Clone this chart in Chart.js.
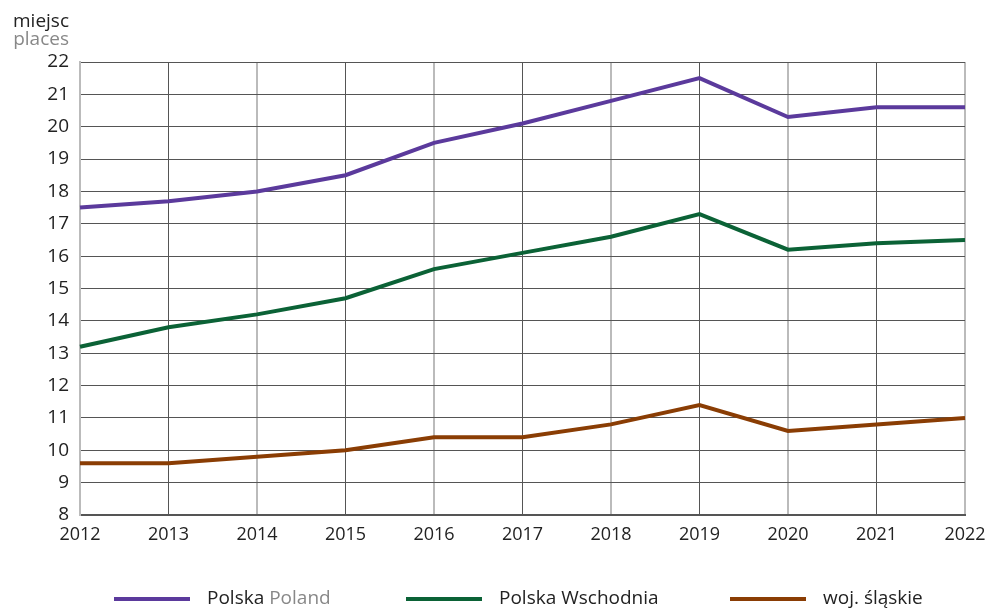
<!DOCTYPE html>
<html>
<head>
<meta charset="utf-8">
<script src="https://cdn.jsdelivr.net/npm/chart.js@4"></script>
<style>
  html, body { margin: 0; padding: 0; background: #fff; }
  #wrap { width: 987px; height: 608px; }
</style>
</head>
<body>
<div id="wrap"><canvas id="placesChart" width="987" height="608"></canvas></div>
<script>
const years = ['2012', '2013', '2014', '2015', '2016', '2017', '2018', '2019', '2020', '2021', '2022'];
const polska = [17.5, 17.7, 18.0, 18.5, 19.5, 20.1, 20.8, 21.5, 20.3, 20.6, 20.6];
const polskaWschodnia = [13.2, 13.8, 14.2, 14.7, 15.6, 16.1, 16.6, 17.3, 16.2, 16.4, 16.5];
const slaskie = [9.6, 9.6, 9.8, 10.0, 10.4, 10.4, 10.8, 11.4, 10.6, 10.8, 11.0];

const FONT = '"Open Sans", "Noto Sans", sans-serif';
const NARROW = '"Liberation Sans Narrow", "Open Sans", sans-serif';

const legendItems = [
  { x: 114, parts: [['Polska ', '#222'], ['Poland', '#888']], color: '#5b3a9c' },
  { x: 406, parts: [['Polska Wschodnia', '#222']], color: '#0b6236' },
  { x: 730, parts: [['woj. śląskie', '#222']], color: '#8a3d04' }
];

// axis unit title and the custom two-colour legend
const extras = {
  id: 'extras',
  afterDraw(c) {
    const ctx = c.ctx;
    ctx.save();
    ctx.font = '19px ' + FONT;
    ctx.textAlign = 'right';
    ctx.textBaseline = 'alphabetic';
    ctx.fillStyle = '#222';
    ctx.fillText('miejsc', 69, 27);
    ctx.fillStyle = '#888';
    ctx.fillText('places', 69, 45);

    ctx.textAlign = 'left';
    ctx.textBaseline = 'middle';
    ctx.font = '19px ' + NARROW;
    legendItems.forEach(item => {
      ctx.strokeStyle = item.color;
      ctx.lineWidth = 4;
      ctx.beginPath();
      ctx.moveTo(item.x, 599);
      ctx.lineTo(item.x + 76, 599);
      ctx.stroke();
      let tx = item.x + 93;
      item.parts.forEach(([txt, col]) => {
        ctx.fillStyle = col;
        ctx.fillText(txt, tx, 599);
        tx += ctx.measureText(txt).width;
      });
    });
    ctx.restore();
  }
};

const ds = (data, color) => ({
  data,
  borderColor: color,
  backgroundColor: color,
  borderWidth: 4,
  pointRadius: 0,
  tension: 0,
  fill: false
});

new Chart(document.getElementById('placesChart'), {
  type: 'line',
  data: {
    labels: years,
    datasets: [
      ds(polska, '#5b3a9c'),
      ds(polskaWschodnia, '#0b6236'),
      ds(slaskie, '#8a3d04')
    ]
  },
  options: {
    responsive: false,
    animation: false,
    layout: { padding: { top: 62, right: 22, bottom: 53, left: 0 } },
    plugins: { legend: { display: false }, tooltip: { enabled: false } },
    scales: {
      x: {
        offset: false,
        afterFit: s => { s.height = 40; s.paddingLeft = 0; s.paddingRight = 0; },
        grid: {
          drawTicks: false,
          color: ctx => (ctx.index % 2 === 1 ? '#555' : '#bbb'),
          lineWidth: ctx => (ctx.index % 2 === 1 ? 1 : 2)
        },
        border: { color: '#555', width: 2 },
        ticks: { color: '#222', font: { family: FONT, size: 18 }, padding: 9, maxRotation: 0 }
      },
      y: {
        min: 8,
        max: 22,
        afterFit: s => { s.width = 80; s.paddingTop = 0; s.paddingBottom = 0; },
        grid: { drawTicks: false, color: '#555', lineWidth: 1 },
        border: { color: '#bbb', width: 2 },
        ticks: { stepSize: 1, color: '#222', font: { family: FONT, size: 19 }, padding: 11 }
      }
    }
  },
  plugins: [extras]
});
</script>
</body>
</html>
